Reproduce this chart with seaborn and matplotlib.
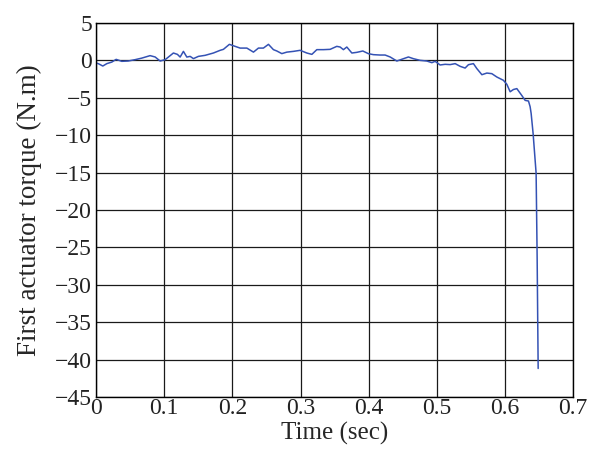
import numpy as np
import pandas as pd
import matplotlib
matplotlib.use('Agg')
import matplotlib.pyplot as plt
import seaborn as sns

# values
time_sec = [0.000, 0.0034, 0.0098, 0.0157, 0.0230, 0.0294, 0.0377, 0.0470, 0.0572, 0.0671,
            0.0792, 0.0866, 0.0939, 0.1013, 0.1061, 0.1134, 0.1193, 0.1233, 0.1281, 0.1331,
            0.1380, 0.1428, 0.1501, 0.1600, 0.1721, 0.1820, 0.1868, 0.1956, 0.2040, 0.2113,
            0.2212, 0.2309, 0.2382, 0.2455, 0.2529, 0.2602, 0.2652, 0.2725, 0.2799, 0.2896,
            0.2994, 0.3092, 0.3166, 0.3239, 0.3336, 0.3434, 0.3532, 0.3581, 0.3629, 0.3679,
            0.3753, 0.3826, 0.3914, 0.3996, 0.4070, 0.4168, 0.4241, 0.4315, 0.4413, 0.4510,
            0.4583, 0.4657, 0.4755, 0.4853, 0.4927, 0.4975, 0.5048, 0.5122, 0.5195, 0.5269,
            0.5342, 0.5415, 0.5464, 0.5537, 0.5587, 0.5661, 0.5734, 0.5807, 0.5881, 0.5977,
            0.6027, 0.6076, 0.6124, 0.6174, 0.6247, 0.6296, 0.6345, 0.6369, 0.6384, 0.6413,
            0.6457, 0.6472, 0.6487]
torque = [-0.36, -0.45, -0.76, -0.44, -0.23, 0.13, -0.13, -0.09, 0.09, 0.30,
          0.63, 0.45, -0.09, 0.09, 0.44, 0.98, 0.80, 0.44, 1.20, 0.44,
          0.53, 0.23, 0.53, 0.67, 0.98, 1.34, 1.47, 2.14, 1.87, 1.64,
          1.64, 1.10, 1.64, 1.64, 2.14, 1.43, 1.25, 0.90, 1.10, 1.20,
          1.34, 0.98, 0.80, 1.43, 1.43, 1.47, 1.87, 1.78, 1.43, 1.78,
          0.98, 1.07, 1.25, 0.89, 0.76, 0.71, 0.71, 0.45, -0.09, 0.22,
          0.45, 0.22, 0.00, -0.09, -0.31, -0.13, -0.62, -0.53, -0.57, -0.44,
          -0.80, -1.03, -0.58, -0.44, -1.10, -1.92, -1.70, -1.78, -2.23, -2.67,
          -3.20, -4.20, -3.90, -3.78, -4.70, -5.35, -5.44, -6.20, -7.10, -9.80,
          -15.1, -26.3, -41.2]

x_ticks = [0, 0.1, 0.2, 0.3, 0.4, 0.5, 0.6, 0.7]
x_ticklabels = ['0', '0.1', '0.2', '0.3', '0.4', '0.5', '0.6', '0.7']
y_ticks = [5, 0, -5, -10, -15, -20, -25, -30, -35, -40, -45]

df = pd.DataFrame({'t': time_sec, 'tau': torque})

sns.set_style('white')
plt.rcParams['font.family'] = ['Liberation Serif', 'DejaVu Serif']
plt.rcParams['axes.unicode_minus'] = True

fig = plt.figure(figsize=(5.97, 4.5), dpi=100)
ax = fig.add_axes([0.161, 0.118, 0.799, 0.831])

sns.lineplot(data=df, x='t', y='tau', ax=ax, color='#3452b4', linewidth=1.1, sort=False)

ax.set_xlim(0, 0.7)
ax.set_ylim(-45, 5)
ax.set_xticks(x_ticks)
ax.set_xticklabels(x_ticklabels)
ax.set_yticks(y_ticks)
ax.grid(True, color='#1a1a1a', linewidth=0.9)
for s in ax.spines.values():
    s.set_color('black')
    s.set_linewidth(1.0)
ax.tick_params(labelsize=17, length=0, colors='#222222')
ax.tick_params(axis='y', pad=3)
ax.tick_params(axis='x', pad=1)
ax.set_xlabel('Time (sec)', fontsize=18, labelpad=2)
ax.set_ylabel('First actuator torque (N.m)', fontsize=19.5, labelpad=9)

fig.savefig('out.png', dpi=100)
